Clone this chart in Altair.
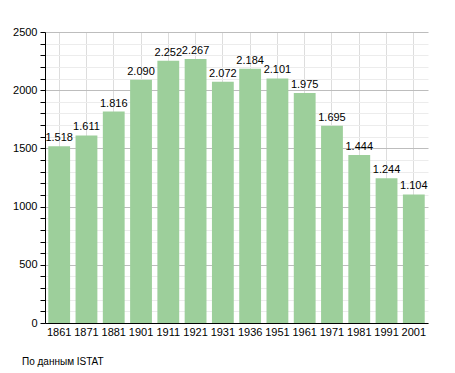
import altair as alt
import pandas as pd

years = ["1861", "1871", "1881", "1901", "1911", "1921", "1931", "1936", "1951", "1961", "1971", "1981", "1991", "2001"]
population = [1518, 1611, 1816, 2090, 2252, 2267, 2072, 2184, 2101, 1975, 1695, 1444, 1244, 1104]
labels = [f"{v:,}".replace(",", ".") for v in population]
source_note = "По данным  ISTAT"

df = pd.DataFrame({"year": years, "pop": population, "label": labels})

FONT = "Liberation Sans"

base = alt.Chart(df).encode(
    x=alt.X("year:N", sort=years, title=None,
            scale=alt.Scale(paddingInner=0.2, paddingOuter=0.12),
            axis=alt.Axis(labelAngle=0, ticks=False, domainColor="black",
                          labelColor="black", labelFontSize=11, labelPadding=3,
                          labelFont=FONT)),
    y=alt.Y("pop:Q", title=None,
            scale=alt.Scale(domain=[0, 2500], nice=False),
            axis=alt.Axis(values=list(range(0, 2600, 100)),
                          labelExpr="datum.value % 500 === 0 ? datum.label : ''",
                          gridColor=alt.expr("datum.value % 500 === 0 ? '#bdbdbd' : '#ececec'"),
                          domainColor="black", tickColor="black", tickSize=5,
                          labelColor="black", labelFontSize=11, labelPadding=3,
                          labelFont=FONT, format="d")),
)

bars = base.mark_bar(color="#9dcf9b")
text = base.mark_text(baseline="bottom", dy=-3, fontSize=11, font=FONT, color="black").encode(text="label:N")

note = alt.Chart(pd.DataFrame({"t": [source_note]})).mark_text(
    align="left", baseline="middle", fontSize=10, font=FONT, color="black"
).encode(x=alt.value(-23), y=alt.value(330), text="t:N")

chart = alt.layer(bars, text, note).properties(
    width=383, height=291,
    autosize=alt.AutoSizeParams(type="none"),
    padding={"left": 37, "top": 24, "right": 19, "bottom": 49},
).configure_view(stroke=None).configure_axis(grid=True)

chart.save("out.html", embed_options={"renderer": "svg", "actions": False})
